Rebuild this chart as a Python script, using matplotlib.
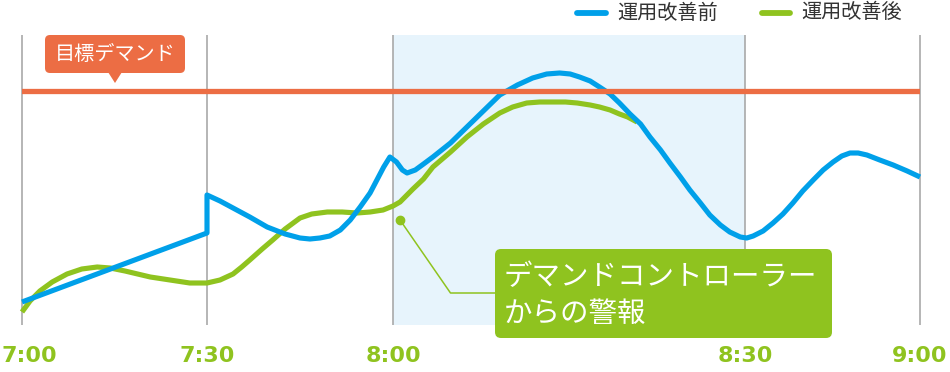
import numpy as np
import matplotlib.pyplot as plt
from matplotlib.patches import FancyBboxPatch, Polygon

plt.rcParams['font.family'] = ['Noto Sans CJK JP', 'DejaVu Sans']

# time axis (minutes after 7:00); the chart stretches 8:00-8:30
tick_min = [0, 30, 60, 90, 120]
tick_labels = ['7:00', '7:30', '8:00', '8:30', '9:00']
tick_layout = [0, 185, 371, 723, 898]

# demand (relative units)
target = 234

before_t = [0, 30, 30, 32.1, 34.2, 36.9, 39.7, 42.6, 45.0, 46.6, 48.2, 49.8, 51.5,
            53.1, 54.7, 56.3, 57.4, 58.5, 59.5, 60.3, 60.8, 61.2, 61.9, 62.6, 63.4,
            64.9, 66.3, 67.7, 69.1, 70.6, 71.9, 73.1, 74.2, 75.1, 75.9, 76.8, 77.6,
            78.5, 79.3, 80.2, 81.1, 81.9, 82.8, 83.6, 84.5, 85.3, 86.2, 87.0, 87.9,
            88.7, 89.6, 90.3, 91.4, 93.1, 94.8, 96.5, 98.2, 99.9, 101.7, 103.4, 105.1,
            106.6, 108.0, 109.4, 110.9, 113.1, 115.4, 117.8, 120]
before_v = [23, 92, 130, 124, 117, 108, 98, 91, 87, 86, 87, 89, 95,
            105, 118, 132, 145, 158, 168, 163, 155, 152, 155, 161, 168,
            182, 198, 214, 230, 240, 247, 251, 252, 251, 248, 244, 238,
            231, 222, 211, 201, 188, 175, 162, 148, 135, 122, 110, 100,
            93, 88, 87, 89, 94, 102, 111, 122, 134, 145, 155, 163,
            169, 172, 172, 170, 165, 160, 154, 148]

after_t = [0, 1.3, 2.9, 4.9, 7.3, 9.7, 12.2, 14.3, 16.7, 20.8, 24.0, 27.2, 30.0,
           32.1, 34.2, 35.6, 36.9, 38.9, 40.6, 42.6, 45.0, 46.9, 49.4, 51.8, 54.2,
           56.3, 58.4, 60.0, 60.6, 61.7, 62.6, 63.4, 64.9, 66.3, 67.7, 69.1, 70.2,
           71.4, 72.5, 73.4, 74.7, 75.7, 76.8, 77.6, 78.5, 79.3, 80.0, 80.8]
after_v = [13, 24, 34, 43, 51, 56, 58, 57, 54, 48, 45, 42, 42,
           45, 51, 58, 65, 76, 85, 96, 107, 111, 113, 113, 112,
           113, 115, 119, 123, 136, 146, 158, 173, 188, 201, 212, 218,
           222, 223, 223, 223, 222, 220, 218, 215, 211, 208, 203]

alert_t, alert_v = 60.6, 105

blue = '#00A0E9'
green = '#8FC31F'
orange = '#EC6D44'

fig = plt.figure(figsize=(9.5, 3.72), dpi=100)
ax = fig.add_axes([22 / 950, 47 / 372, 898 / 950, 290 / 372])

fwd = lambda m: np.interp(m, tick_min, tick_layout)
inv = lambda p: np.interp(p, tick_layout, tick_min)
ax.set_xscale('function', functions=(fwd, inv))
ax.set_xlim(0, 120)
ax.set_ylim(0, 290)

ax.axvspan(60, 90, color='#E7F4FC', lw=0, zorder=0)
ax.vlines(tick_min, 0, 290, color='#A9A9A9', lw=1.2, zorder=1, clip_on=False)

ax.plot(after_t, after_v, color=green, lw=3.7, solid_joinstyle='round',
        solid_capstyle='butt', zorder=3, clip_on=False)
ax.plot(before_t, before_v, color=blue, lw=3.7, solid_joinstyle='round',
        solid_capstyle='butt', zorder=4, clip_on=False)
ax.axhline(target, color=orange, lw=3.8, zorder=5)

# alert leader
ax.plot([alert_t, 64.9, 68.7], [alert_v, 32, 32], color=green, lw=1.1, zorder=6)
ax.plot(alert_t, alert_v, 'o', color=green, ms=6, zorder=6)

ax.set_xticks(tick_min, labels=[])
ax.tick_params(axis='x', length=0)
ax.set_yticks([])
for s in ax.spines.values():
    s.set_visible(False)

for i, (m, lab) in enumerate(zip(tick_min, tick_labels)):
    dx = 7 if i == 0 else 0
    ax.annotate(lab, (m, 0), xycoords=('data', 'axes fraction'),
                xytext=(dx, -31), textcoords='offset pixels',
                ha='center', va='center', family='DejaVu Sans',
                fontweight='bold', fontsize=16, color=green, annotation_clip=False)

# overlay in pixel units for legend and callouts
ov = fig.add_axes([0, 0, 1, 1])
ov.set_xlim(0, 950)
ov.set_ylim(372, 0)
ov.axis('off')

ov.plot([577, 606], [13, 13], color=blue, lw=4.2, solid_capstyle='round')
ov.text(617, 13, '運用改善前', fontsize=14.5, color='#333333', va='center')
ov.plot([762, 790], [13, 13], color=green, lw=4.2, solid_capstyle='round')
ov.text(801, 13, '運用改善後', fontsize=14.5, color='#333333', va='center')

ov.add_patch(FancyBboxPatch((45, 35), 140, 38, boxstyle='round,pad=0,rounding_size=5',
                            fc=orange, ec='none'))
ov.add_patch(Polygon([(108, 72), (122, 72), (115, 83)], fc=orange, ec='none'))
ov.text(115, 54, '目標デマンド', fontsize=14.5, color='white', ha='center', va='center')

ov.add_patch(FancyBboxPatch((495, 249), 337, 89, boxstyle='round,pad=0,rounding_size=6',
                            fc=green, ec='none'))
ov.text(504, 277, 'デマンドコントローラー', fontsize=20.5, color='white', va='center')
ov.text(504, 314, 'からの警報', fontsize=20.5, color='white', va='center')

fig.savefig('out.png', dpi=100)
